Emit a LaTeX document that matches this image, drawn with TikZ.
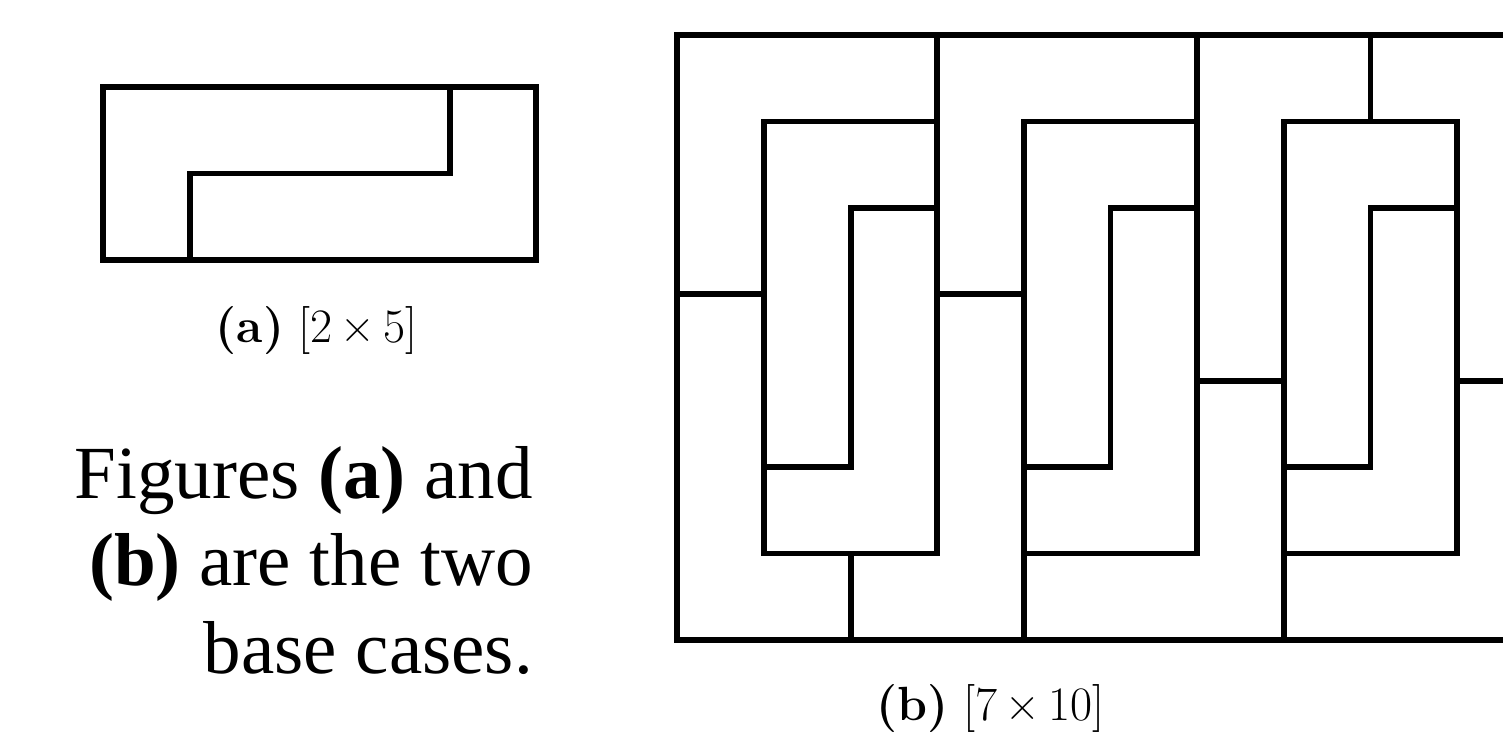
\documentclass[tikz,border=0pt]{standalone}
\usepackage{fontspec}
\newfontfamily\serifT{Liberation Serif}
\begin{document}
\begin{tikzpicture}[x=1pt,y=1pt,
  wall/.style={line width=5.8pt, line join=miter, line cap=rect, draw=black},
  bigtext/.style={font=\serifT\fontsize{75}{87}\selectfont, inner sep=0pt, anchor=base east},
  captxt/.style={font=\fontsize{48}{54}\selectfont, inner sep=0pt, anchor=base}]
\useasboundingbox (0,0) rectangle (1503,732);
\begin{scope}
\clip (0,0) rectangle (1503,732);
% ---- figure (a): 2 x 5 ----
\begin{scope}[shift={(103,472)}, x=86.65pt, y=86.5pt]
  \draw[wall] (0,0) rectangle (5,2);
  \draw[wall] (4,2) -- (4,1) -- (1,1) -- (1,0);
\end{scope}
% ---- figure (b): 7 x 10 ----
\begin{scope}[shift={(677.3,92)}, x=86.65pt, y=86.43pt]
  \draw[wall] (10,7) -- (0,7) -- (0,0) -- (10,0);
  % block 1
  \draw[wall] (3,7) -- (3,1);
  \draw[wall] (3,6) -- (1,6) -- (1,1) -- (3,1);
  \draw[wall] (0,4) -- (1,4);
  \draw[wall] (3,5) -- (2,5) -- (2,2) -- (1,2);
  \draw[wall] (2,1) -- (2,0);
  \draw[wall] (3,4) -- (4,4);
  % block 2
  \draw[wall] (6,7) -- (6,1);
  \draw[wall] (6,6) -- (4,6) -- (4,0);
  \draw[wall] (4,1) -- (6,1);
  \draw[wall] (6,5) -- (5,5) -- (5,2) -- (4,2);
  \draw[wall] (6,3) -- (7,3);
  % block 3
  \draw[wall] (8,7) -- (8,6);
  \draw[wall] (7,0) -- (7,6) -- (9,6) -- (9,1) -- (7,1);
  \draw[wall] (9,5) -- (8,5) -- (8,2) -- (7,2);
  \draw[wall] (9,3) -- (10,3);
\end{scope}
\end{scope}
% ---- captions ----
\node[captxt] (capa) at (316.5,390) {\textbf{(a)} [2\,×\,5]};
\node[captxt] (capb) at (990.5,12) {\textbf{(b)} [7\,×\,10]};
% ---- side text ----
\node[bigtext] (line1) at (533,234) {Figures \textbf{(a)} and};
\node[bigtext] (line2) at (533,147) {\textbf{(b)} are the two};
\node[bigtext] (line3) at (533,59) {base cases.};
\end{tikzpicture}
\end{document}
